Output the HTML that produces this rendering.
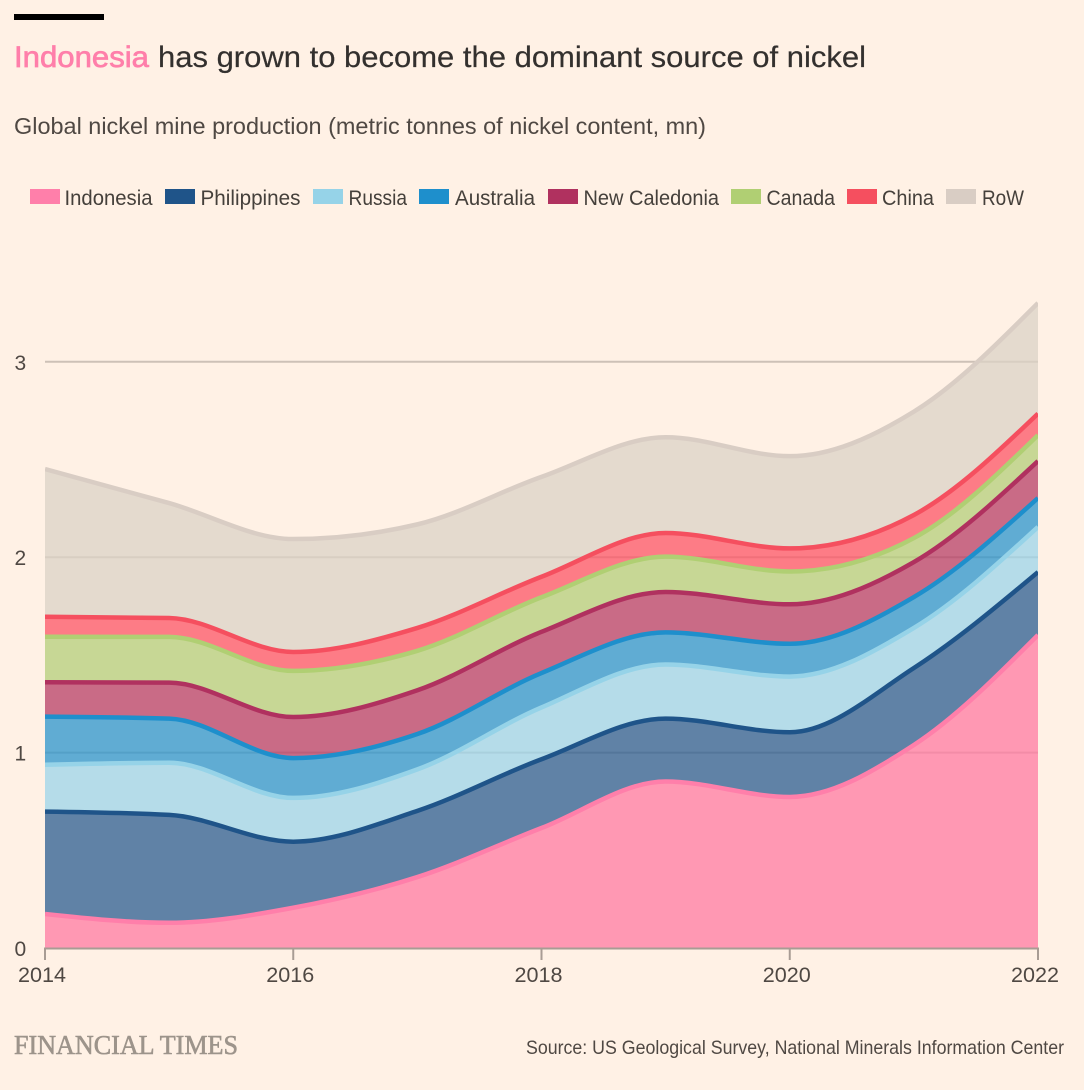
<!DOCTYPE html>
<html lang="en">
<head>
<meta charset="utf-8">
<title>Indonesia has grown to become the dominant source of nickel</title>
<style>
html,body{margin:0;padding:0;background:#fff1e5;}
body{width:1084px;height:1090px;overflow:hidden;}
svg{display:block;font-family:"Liberation Sans",sans-serif;}
</style>
</head>
<body>
<svg id="chart" xmlns="http://www.w3.org/2000/svg" width="1084" height="1090" viewBox="0 0 1084 1090">
  <rect x="0" y="0" width="1084" height="1090" fill="#fff1e5"/>
  <rect x="14" y="14" width="90" height="6" fill="#000"/>
  <g font-size="30">
    <text x="14" y="67" fill="#ff7faa" stroke="#ff7faa" stroke-width="0.7" textLength="135" lengthAdjust="spacingAndGlyphs">Indonesia</text>
    <text x="158" y="67" fill="#33302e" stroke="#33302e" stroke-width="0.2" textLength="708" lengthAdjust="spacingAndGlyphs">has grown to become the dominant source of nickel</text>
  </g>
  <text x="14" y="134" font-size="23" fill="#4f4843" textLength="692" lengthAdjust="spacingAndGlyphs">Global nickel mine production (metric tonnes of nickel content, mn)</text>

  <g font-size="21" fill="#45403b">
    <g>
      <rect x="30" y="189" width="30" height="15" fill="#ff7faa"/>
      <text x="64.5" y="205" textLength="88" lengthAdjust="spacingAndGlyphs">Indonesia</text>
    </g>
    <g>
      <rect x="165" y="189" width="30" height="15" fill="#1f5489"/>
      <text x="200.5" y="205" textLength="100" lengthAdjust="spacingAndGlyphs">Philippines</text>
    </g>
    <g>
      <rect x="313" y="189" width="30" height="15" fill="#96d3e8"/>
      <text x="348.5" y="205" textLength="58.5" lengthAdjust="spacingAndGlyphs">Russia</text>
    </g>
    <g>
      <rect x="419" y="189" width="30" height="15" fill="#1e8fcc"/>
      <text x="455" y="205" textLength="80" lengthAdjust="spacingAndGlyphs">Australia</text>
    </g>
    <g>
      <rect x="548" y="189" width="30" height="15" fill="#b0315f"/>
      <text x="583.5" y="205" textLength="135.5" lengthAdjust="spacingAndGlyphs">New Caledonia</text>
    </g>
    <g>
      <rect x="731" y="189" width="30" height="15" fill="#b0cf73"/>
      <text x="766.5" y="205" textLength="68.5" lengthAdjust="spacingAndGlyphs">Canada</text>
    </g>
    <g>
      <rect x="847" y="189" width="30" height="15" fill="#f54f5f"/>
      <text x="882" y="205" textLength="52" lengthAdjust="spacingAndGlyphs">China</text>
    </g>
    <g>
      <rect x="946" y="189" width="30" height="15" fill="#d9cdc4"/>
      <text x="982" y="205" textLength="42" lengthAdjust="spacingAndGlyphs">RoW</text>
    </g>
  </g>

  <defs>
    <clipPath id="plot-clip">
      <rect x="45" y="200" width="993" height="748"/>
    </clipPath>
  </defs>
  <g id="grid"></g>
  <g id="areas" clip-path="url(#plot-clip)"></g>
  <g id="lines" clip-path="url(#plot-clip)"></g>
  <g id="yaxis"></g>
  <g id="xaxis"></g>

  <text x="14" y="1054" font-family="'Liberation Serif',serif" font-size="27" fill="#9d948b" stroke="#9d948b" stroke-width="0.6" textLength="224" lengthAdjust="spacingAndGlyphs">FINANCIAL TIMES</text>
  <text x="526" y="1054" font-size="19.5" fill="#4f4843" textLength="538" lengthAdjust="spacingAndGlyphs">Source: US Geological Survey, National Minerals Information Center</text>
</svg>

<script>
const years = [2014, 2015, 2016, 2017, 2018, 2019, 2020, 2021, 2022];
const seriesNames = ["Indonesia", "Philippines", "Russia", "Australia", "New Caledonia", "Canada", "China", "RoW"];
const indonesia = [0.174, 0.129, 0.206, 0.363, 0.614, 0.852, 0.773, 1.039, 1.602];
const philippines = [0.524, 0.552, 0.338, 0.339, 0.352, 0.322, 0.331, 0.394, 0.322];
const russia = [0.240, 0.267, 0.224, 0.212, 0.265, 0.277, 0.285, 0.205, 0.231];
const australia = [0.246, 0.226, 0.204, 0.181, 0.176, 0.164, 0.168, 0.158, 0.148];
const newCaledonia = [0.176, 0.184, 0.210, 0.224, 0.211, 0.207, 0.202, 0.179, 0.189];
const canada = [0.233, 0.234, 0.236, 0.202, 0.177, 0.181, 0.168, 0.123, 0.133];
const china = [0.102, 0.097, 0.097, 0.117, 0.105, 0.121, 0.118, 0.118, 0.110];
const row = [0.756, 0.588, 0.578, 0.530, 0.511, 0.490, 0.472, 0.529, 0.566];
const xTickLabels = [2014, 2016, 2018, 2020, 2022];
const yTickLabels = [0, 1, 2, 3];

const seriesValues = [indonesia, philippines, russia, australia, newCaledonia, canada, china, row];
const lineColors = ["#ff7faa", "#1f5489", "#96d3e8", "#1e8fcc", "#b0315f", "#b0cf73", "#f54f5f", "#d9cdc4"];
const fillColors = ["#ff7aa2", "#2b5c90", "#9cd4e9", "#2b94cc", "#b73d65", "#b4ce79", "#fc5466", "#dbd1c6"];

const SVG_NS = "http://www.w3.org/2000/svg";
function xScale(year) { return 45 + (year - 2014) * (1038 - 45) / 8; }
function yScale(value) { return 948 - value * 195.4; }
function make(tag, attrs) {
  const el = document.createElementNS(SVG_NS, tag);
  for (const k in attrs) el.setAttribute(k, attrs[k]);
  return el;
}
function sign(v) { return v < 0 ? -1 : 1; }
function tangents(xs, ys) {
  const n = xs.length, h = [], s = [], t = [];
  for (let i = 0; i < n - 1; i++) { h[i] = xs[i + 1] - xs[i]; s[i] = (ys[i + 1] - ys[i]) / h[i]; }
  for (let i = 1; i < n - 1; i++) {
    const p = (s[i - 1] * h[i] + s[i] * h[i - 1]) / (h[i - 1] + h[i]);
    t[i] = (sign(s[i - 1]) + sign(s[i])) * Math.min(Math.abs(s[i - 1]), Math.abs(s[i]), 0.5 * Math.abs(p)) || 0;
  }
  t[0] = (3 * s[0] - t[1]) / 2;
  t[n - 1] = (3 * s[n - 2] - t[n - 2]) / 2;
  return t;
}
function forwardCurve(xs, ys) {
  const t = tangents(xs, ys);
  let d = "";
  for (let i = 0; i < xs.length - 1; i++) {
    const dx = (xs[i + 1] - xs[i]) / 3;
    d += "C" + (xs[i] + dx) + "," + (ys[i] + dx * t[i]) + " " + (xs[i + 1] - dx) + "," + (ys[i + 1] - dx * t[i + 1]) + " " + xs[i + 1] + "," + ys[i + 1];
  }
  return d;
}
function backwardCurve(xs, ys) {
  const t = tangents(xs, ys);
  let d = "";
  for (let i = xs.length - 1; i > 0; i--) {
    const dx = (xs[i] - xs[i - 1]) / 3;
    d += "C" + (xs[i] - dx) + "," + (ys[i] - dx * t[i]) + " " + (xs[i - 1] + dx) + "," + (ys[i - 1] + dx * t[i - 1]) + " " + xs[i - 1] + "," + ys[i - 1];
  }
  return d;
}
function slug(name) { return name.toLowerCase().replace(/\s+/g, "-"); }

const gridG = document.getElementById("grid");
const areasG = document.getElementById("areas");
const linesG = document.getElementById("lines");
const xAxisG = document.getElementById("xaxis");
const yAxisG = document.getElementById("yaxis");

yTickLabels.forEach(function (v) {
  if (v !== 0) {
    const g = make("line", { x1: 45, x2: 1038, y1: yScale(v), y2: yScale(v), stroke: "#cdc1b7", "stroke-width": 2 });
    
    
    gridG.appendChild(g);
  }
  const label = make("text", { x: 14.5, y: yScale(v) + 8, "font-size": 21, fill: "#4f4843" });
  
  
  label.textContent = v;
  yAxisG.appendChild(label);
});

const xs = years.map(xScale);
let lowerCum = years.map(function () { return 0; });
seriesValues.forEach(function (values, idx) {
  const upperCum = values.map(function (v, i) { return lowerCum[i] + v; });
  const upperY = upperCum.map(yScale);
  const lowerY = lowerCum.map(yScale);
  const area = make("path", {
    d: "M" + xs[0] + "," + upperY[0] + forwardCurve(xs, upperY) + "L" + xs[xs.length - 1] + "," + lowerY[xs.length - 1] + backwardCurve(xs, lowerY) + "Z",
    fill: fillColors[idx],
    "fill-opacity": 0.75
  });
  
  
  areasG.appendChild(area);
  const line = make("path", {
    d: "M" + xs[0] + "," + upperY[0] + forwardCurve(xs, upperY),
    fill: "none",
    stroke: lineColors[idx],
    "stroke-width": 4.5
  });
  
  
  linesG.appendChild(line);
  lowerCum = upperCum;
});

const axisLine = make("line", { x1: 44, x2: 1039, y1: yScale(0) + 0.5, y2: yScale(0) + 0.5, stroke: "#a89c94", "stroke-width": 2 });


xAxisG.appendChild(axisLine);
xTickLabels.forEach(function (yr) {
  const tick = make("line", { x1: xScale(yr), x2: xScale(yr), y1: yScale(0), y2: 960, stroke: "#a89c94", "stroke-width": 2 });
  
  
  xAxisG.appendChild(tick);
  const label = make("text", { x: xScale(yr) - 3, y: 982, "font-size": 21, fill: "#4f4843", "text-anchor": "middle", textLength: 48, lengthAdjust: "spacingAndGlyphs" });
  
  
  label.textContent = yr;
  xAxisG.appendChild(label);
});
</script>
</body>
</html>
